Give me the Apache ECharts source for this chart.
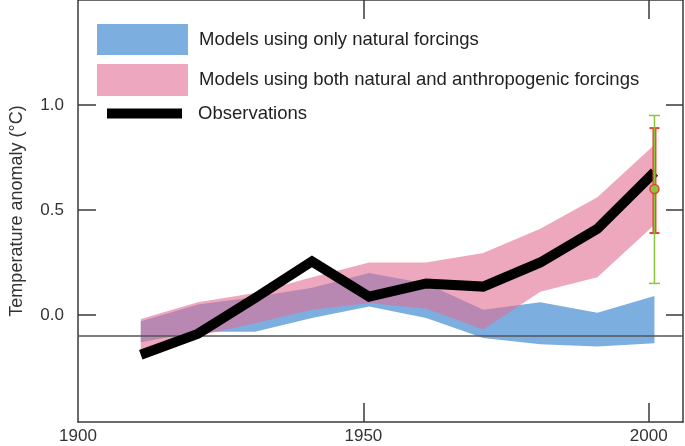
<!DOCTYPE html>
<html>
<head>
<meta charset="utf-8">
<script src="https://cdn.jsdelivr.net/npm/echarts@6/dist/echarts.min.js"></script>
<style>
html,body{margin:0;padding:0;background:#fff;}
#chart{width:685px;height:446px;}
</style>
</head>
<body>
<div id="chart"></div>
<script>
// ---- data ----
const years = [1911, 1921, 1931, 1941, 1951, 1961, 1971, 1981, 1991, 2001];
const observations = [-0.19, -0.09, 0.08, 0.255, 0.087, 0.15, 0.135, 0.25, 0.41, 0.68];
const naturalUpper = [-0.03, 0.05, 0.085, 0.13, 0.20, 0.15, 0.025, 0.06, 0.01, 0.09];
const naturalLower = [-0.13, -0.08, -0.08, -0.015, 0.04, -0.015, -0.11, -0.14, -0.15, -0.135];
const combinedUpper = [-0.02, 0.06, 0.105, 0.18, 0.25, 0.25, 0.295, 0.41, 0.56, 0.81];
const combinedLower = [-0.17, -0.10, -0.04, 0.025, 0.057, 0.03, -0.07, 0.11, 0.18, 0.43];
const errorYear = [2001];
const errorCenter = [0.6];
const errorInner = [0.39, 0.89];
const errorOuter = [0.15, 0.95];
const referenceLevel = [-0.1];
const xTickLabels = [1900, 1950, 2000];
const yTickLabels = [0, 0.5, 1.0];
const seriesNames = ['Models using only natural forcings',
  'Models using both natural and anthropogenic forcings', 'Observations'];

const FONT = 'Liberation Sans, Arial, Helvetica, sans-serif';
const AX = '#3a3a3a';
const BLUE = '#7cafe0';
const PINK = '#eda8bf';
const PINK_FILL = 'rgba(225,110,147,0.6)';

function bandRender(lower, upper, fill) {
  return function (params, api) {
    if (params.dataIndex !== 0) return null;
    const top = years.map((y, i) => api.coord([y, upper[i]]));
    const bot = years.map((y, i) => api.coord([y, lower[i]])).reverse();
    return { type: 'polygon', shape: { points: top.concat(bot) }, style: { fill: fill } };
  };
}

const chart = echarts.init(document.getElementById('chart'), null, { renderer: 'canvas' });

const axisLine = { show: true, onZero: false, lineStyle: { color: AX, width: 1.5 } };
const xCommon = { type: 'value', min: 1900, max: 2006, interval: 50, splitLine: { show: false } };
const yCommon = { type: 'value', min: -0.51, max: 1.5, splitLine: { show: false } };

const legendBase = {
  orient: 'horizontal', padding: 0, selectedMode: false,
  textStyle: { fontFamily: FONT, fontSize: 18.5, color: '#222', padding: [0, 0, 0, 6] }
};

const option = {
  animation: false,
  backgroundColor: '#fff',
  grid: { left: 76, right: 2, top: 0, bottom: 24, containLabel: false },
  legend: [
    Object.assign({}, legendBase, { left: 97, top: 24, itemWidth: 91, itemHeight: 31,
      data: [{ name: seriesNames[0], icon: 'rect', itemStyle: { color: BLUE } }] }),
    Object.assign({}, legendBase, { left: 97, top: 64, itemWidth: 91, itemHeight: 32,
      data: [{ name: seriesNames[1], icon: 'rect', itemStyle: { color: PINK } }] }),
    Object.assign({}, legendBase, { left: 107, top: 104, itemWidth: 75, itemHeight: 10,
      textStyle: { fontFamily: FONT, fontSize: 18.5, color: '#222', padding: [0, 0, 0, 11] },
      data: [{ name: seriesNames[2], icon: 'rect', itemStyle: { color: '#000' } }] })
  ],
  xAxis: [
    Object.assign({}, xCommon, {
      position: 'bottom', axisLine: axisLine,
      axisTick: { show: true, inside: true, length: 19, customValues: xTickLabels.slice(1), lineStyle: { color: AX, width: 1.5 } },
      axisLabel: { show: true, customValues: xTickLabels, margin: 6, fontFamily: FONT, fontSize: 17, color: '#333',
        formatter: v => String(v) }
    }),
    Object.assign({}, xCommon, {
      position: 'top', axisLine: axisLine,
      axisTick: { show: true, inside: true, length: 19, customValues: xTickLabels.slice(1), lineStyle: { color: AX, width: 1.5 } },
      axisLabel: { show: false }
    })
  ],
  yAxis: [
    Object.assign({}, yCommon, {
      position: 'left', axisLine: axisLine,
      axisTick: { show: true, inside: true, length: 18, customValues: yTickLabels, lineStyle: { color: AX, width: 1.5 } },
      axisLabel: { show: true, customValues: yTickLabels, margin: 14, fontFamily: FONT, fontSize: 17, color: '#333',
        formatter: v => v.toFixed(1) },
      name: 'Temperature anomaly (\u00B0C)', nameLocation: 'middle', nameGap: 52, nameRotate: 90,
      nameTextStyle: { fontFamily: FONT, fontSize: 18, color: '#333' }
    }),
    Object.assign({}, yCommon, {
      position: 'right', axisLine: axisLine,
      axisTick: { show: true, inside: true, length: 17, customValues: yTickLabels, lineStyle: { color: AX, width: 1.5 } },
      axisLabel: { show: false }
    })
  ],
  series: [
    {
      name: seriesNames[0], type: 'custom', xAxisIndex: 0, yAxisIndex: 0, z: 1,
      itemStyle: { color: BLUE },
      data: years.map((y, i) => [y, naturalLower[i], naturalUpper[i]]),
      encode: { x: 0, y: [1, 2] },
      renderItem: bandRender(naturalLower, naturalUpper, BLUE)
    },
    {
      name: seriesNames[1], type: 'custom', xAxisIndex: 0, yAxisIndex: 0, z: 2,
      itemStyle: { color: PINK },
      data: years.map((y, i) => [y, combinedLower[i], combinedUpper[i]]),
      encode: { x: 0, y: [1, 2] },
      renderItem: bandRender(combinedLower, combinedUpper, PINK_FILL),
      markLine: {
        silent: true, symbol: ['none', 'none'], label: { show: false },
        lineStyle: { color: '#555', width: 1.5, type: 'solid' },
        data: [{ yAxis: referenceLevel[0] }]
      }
    },
    {
      name: seriesNames[2], type: 'line', xAxisIndex: 0, yAxisIndex: 0, z: 5,
      showSymbol: false, symbol: 'none',
      itemStyle: { color: '#000' },
      lineStyle: { color: '#000', width: 10, join: 'miter', cap: 'butt', miterLimit: 10 },
      data: years.map((y, i) => [y, observations[i]])
    },
    {
      name: 'Uncertainty', type: 'custom', xAxisIndex: 0, yAxisIndex: 0, z: 6,
      data: errorYear.map((y, i) => [y, errorCenter[i], errorOuter[0], errorOuter[1], errorInner[0], errorInner[1]]),
      encode: { x: 0, y: [1, 2, 3, 4, 5] },
      renderItem: function (params, api) {
        const x = api.value(0);
        const c = api.coord([x, api.value(1)]);
        const o0 = api.coord([x, api.value(2)]);
        const o1 = api.coord([x, api.value(3)]);
        const i0 = api.coord([x, api.value(4)]);
        const i1 = api.coord([x, api.value(5)]);
        const G = '#8cc440', R = '#e2452f';
        const cx = c[0];
        return {
          type: 'group',
          children: [
            { type: 'line', shape: { x1: cx, y1: i0[1], x2: cx, y2: i1[1] }, style: { stroke: R, lineWidth: 4 } },
            { type: 'line', shape: { x1: cx - 5, y1: i0[1], x2: cx + 5, y2: i0[1] }, style: { stroke: R, lineWidth: 2 } },
            { type: 'line', shape: { x1: cx - 5, y1: i1[1], x2: cx + 5, y2: i1[1] }, style: { stroke: R, lineWidth: 2 } },
            { type: 'line', shape: { x1: cx, y1: o0[1], x2: cx, y2: o1[1] }, style: { stroke: G, lineWidth: 1.5 } },
            { type: 'line', shape: { x1: cx - 5.5, y1: o0[1], x2: cx + 5.5, y2: o0[1] }, style: { stroke: G, lineWidth: 1.5 } },
            { type: 'line', shape: { x1: cx - 5.5, y1: o1[1], x2: cx + 5.5, y2: o1[1] }, style: { stroke: G, lineWidth: 1.5 } },
            { type: 'circle', shape: { cx: cx, cy: c[1], r: 4.5 }, style: { fill: G, stroke: R, lineWidth: 1.5 } }
          ]
        };
      }
    }
  ]
};
chart.setOption(option);
</script>
</body>
</html>
